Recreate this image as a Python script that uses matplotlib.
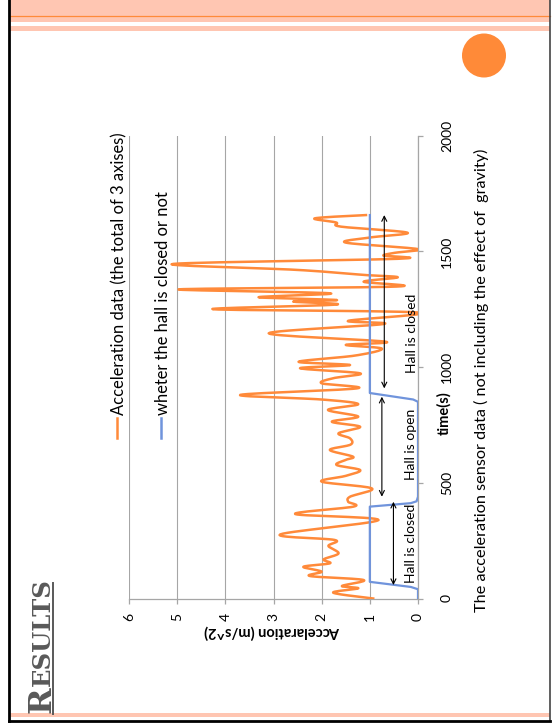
import numpy as np
import matplotlib
matplotlib.use("Agg")
import matplotlib.pyplot as plt
from matplotlib.patches import Rectangle, Circle
from matplotlib.lines import Line2D

# ---- data -------------------------------------------------------------
time_accel = [0, 25, 44, 54, 80, 97, 116, 137, 152, 169, 195, 227, 253, 277,
              339, 365, 397, 418, 440, 476, 505, 530, 555, 577, 599, 613, 642,
              665, 692, 714, 742, 764, 786, 815, 840, 860, 880, 908, 930, 952,
              973, 995, 1009, 1023, 1050, 1080, 1096, 1110, 1146, 1186, 1200,
              1236, 1250, 1270, 1283, 1290, 1302, 1319, 1336, 1348, 1369, 1388,
              1398, 1420, 1446, 1468, 1482, 1494, 1510, 1538, 1560, 1581, 1607,
              1625, 1643, 1657]
accel = [0.93, 1.76, 1.24, 1.58, 1.13, 2.24, 2.0, 2.38, 1.83, 1.96, 1.65, 1.86,
         1.73, 2.86, 0.82, 2.55, 1.34, 1.45, 1.41, 0.96, 2.0, 1.5, 1.2, 1.69,
         1.5, 1.35, 1.83, 1.4, 1.41, 1.65, 1.2, 1.79, 1.24, 1.87, 1.24, 2.0,
         3.69, 1.27, 2.0, 1.76, 1.2, 2.45, 1.41, 2.48, 1.3, 0.75, 1.5, 0.68,
         3.1, 0.72, 1.45, 0.0, 4.25, 1.7, 2.59, 1.69, 3.31, 1.83, 4.97, 0.45,
         1.13, 0.42, 1.1, 2.5, 5.08, 0.42, 0.72, 0.48, 0.0, 1.5, 1.0, 0.22,
         1.6, 1.7, 2.14, 1.08]

time_hall = [0, 40, 50, 72, 397, 412, 420, 440, 850, 860, 888, 1657]
hall = [0, 0, 0.15, 1, 1, 0.15, 0.03, 0, 0, 0.1, 1, 1]

time_ticks = [0, 500, 1000, 1500, 2000]
accel_ticks = [0, 1, 2, 3, 4, 5, 6]

# state intervals marked by double arrows: (label, start, end, label centre)
intervals = [("Hall is closed", 58, 418, 240),
             ("Hall is open", 440, 872, 668),
             ("Hall is closed", 908, 1657, 1147)]

label_accel = "Acceleration data (the total of 3 axises)"
label_hall = "wheter the hall is closed or not"
caption = "The acceleration sensor data ( not including the effect of  gravity)"

ORANGE = "#FF8A3A"
BLUE = "#7094DC"
GRID = "#A6A6A6"
FONT = "Lato"

W, H = 552, 726


def fx(px):
    return px / W


def fy(py):
    return 1 - py / H


def smooth(xs, ys, steps=14):
    """Cubic Bezier smoothing through every point (spreadsheet-style)."""
    x = np.asarray(xs, float)
    y = np.asarray(ys, float)
    xp = np.concatenate([[x[0]], x, [x[-1]]])
    yp = np.concatenate([[y[0]], y, [y[-1]]])
    s = np.linspace(0, 1, steps + 1)[1:]
    ox, oy = [x[0]], [y[0]]
    for i in range(len(x) - 1):
        p_prev = np.array([xp[i], yp[i]])
        p0 = np.array([xp[i + 1], yp[i + 1]])
        p1 = np.array([xp[i + 2], yp[i + 2]])
        p_next = np.array([xp[i + 3], yp[i + 3]])
        c1 = p0 + (p1 - p_prev) / 6
        c2 = p1 - (p_next - p0) / 6
        for u in s:
            b = ((1 - u) ** 3) * p0 + 3 * ((1 - u) ** 2) * u * c1 \
                + 3 * (1 - u) * u * u * c2 + u ** 3 * p1
            ox.append(b[0])
            oy.append(b[1])
    return np.array(ox), np.array(oy)


fig = plt.figure(figsize=(W / 100, H / 100), dpi=100)
fig.patch.set_facecolor("white")

# ---- slide decoration ---------------------------------------------------
deco = fig.add_axes([0, 0, 1, 1], zorder=-5)
deco.set_xlim(0, W)
deco.set_ylim(H, 0)
deco.axis("off")
deco.add_patch(Rectangle((9, 0), 541, 22, color="#FFC6B2", lw=0))
deco.add_patch(Rectangle((9, 26), 541, 5, color="#FFC6B2", lw=0))
deco.plot([9, 550], [15.5, 15.5], color="#FF8A3A", lw=0.9)
deco.add_patch(Rectangle((9, 713), 541, 4, color="#FFC6B2", lw=0))
deco.plot([9, 9], [0, 721], color="black", lw=2.0)
deco.plot([550, 550], [0, 721], color="#444444", lw=1.2)
deco.plot([9, 550], [721, 721], color="black", lw=2.0)
deco.add_patch(Circle((484, 55.5), 22, color="#FF8A38", lw=0))
deco.plot([53, 53], [583, 714], color="#595959", lw=1.4)

# ---- chart -------------------------------------------------------------
ax = fig.add_axes([fx(129), fy(598.5), (418 - 129) / W, (598.5 - 135.7) / H])
ax.set_xlim(6, 0)
ax.set_ylim(0, 2000)

sx, sy = smooth(accel, time_accel)
ax.plot(sx, sy, color=ORANGE, lw=1.8, solid_joinstyle="round", zorder=3)
ax.plot(hall, time_hall, color=BLUE, lw=1.6, zorder=4)

ax.set_xticks(accel_ticks)
ax.set_yticks(time_ticks)
ax.grid(axis="x", color=GRID, lw=0.8)
ax.set_axisbelow(True)
for side in ("top", "left"):
    ax.spines[side].set_visible(False)
for side in ("bottom", "right"):
    ax.spines[side].set_color(GRID)
    ax.spines[side].set_linewidth(0.9)
ax.yaxis.tick_right()
ax.tick_params(axis="both", direction="out", length=3.6, color=GRID, width=0.9)
ax.tick_params(axis="x", pad=7, labelrotation=90)
ax.tick_params(axis="y", pad=13, labelrotation=90)
for lab in ax.get_xticklabels():
    lab.set_fontfamily(FONT)
    lab.set_fontsize(10)
    lab.set_va("top")
    lab.set_ha("center")
for lab in ax.get_yticklabels():
    lab.set_fontfamily(FONT)
    lab.set_fontsize(10)
    lab.set_va("center")
    lab.set_ha("left")

ax.set_xlabel("Accelaration (m/s^2)", fontfamily=FONT, fontsize=10.5,
              fontweight="bold", rotation=180)
ax.xaxis.set_label_coords((418 - 275) / (418 - 129), -(632 - 598.5) / (598.5 - 135.7))
ax.xaxis.label.set_va("center")
ax.xaxis.label.set_ha("center")

ax.text(fx(444), fy(413), "time(s)", transform=fig.transFigure, rotation=90,
        ha="center", va="center", fontfamily=FONT, fontsize=10.5,
        fontweight="bold")

# interval arrows and labels
arrow_pos = [0.51, 0.75, 0.70]
text_pos = [0.155, 0.155, 0.12]
for (lab, t0, t1, tc), ap, tp in zip(intervals, arrow_pos, text_pos):
    ax.annotate("", xy=(ap, t1), xytext=(ap, t0),
                arrowprops=dict(arrowstyle="<->", color="black", lw=0.8,
                                shrinkA=0, shrinkB=0,
                                mutation_scale=9), zorder=5)
    ax.text(tp, tc, lab, rotation=90, ha="center", va="center",
            fontfamily=FONT, fontsize=10, zorder=6)

# legend (rotated with the chart)
for xpos, col, lab in ((117, ORANGE, label_accel), (161, BLUE, label_hall)):
    fig.add_artist(Line2D([fx(xpos), fx(xpos)], [fy(438), fy(418)],
                          color=col, lw=1.8))
    fig.text(fx(xpos + 2), fy(415), lab, rotation=90, ha="center", va="bottom",
             fontfamily=FONT, fontsize=11.9)

# caption
fig.text(fx(481), fy(380), caption, rotation=90, ha="center", va="center",
         fontfamily=FONT, fontsize=11.7)

# title in small capitals
t_r = fig.text(fx(50), fy(713), "R", rotation=90, rotation_mode="anchor",
               ha="left", va="baseline", fontfamily="DejaVu Serif",
               fontweight="bold", fontsize=23, color="#595959")
fig.canvas.draw()
bb = t_r.get_window_extent()
fig.text(fx(50), bb.y1 / H + 0.001, "ESULTS", rotation=90,
         rotation_mode="anchor", ha="left", va="baseline",
         fontfamily="DejaVu Serif", fontweight="bold", fontsize=17.5,
         color="#595959")

fig.savefig("out.png", dpi=100)
